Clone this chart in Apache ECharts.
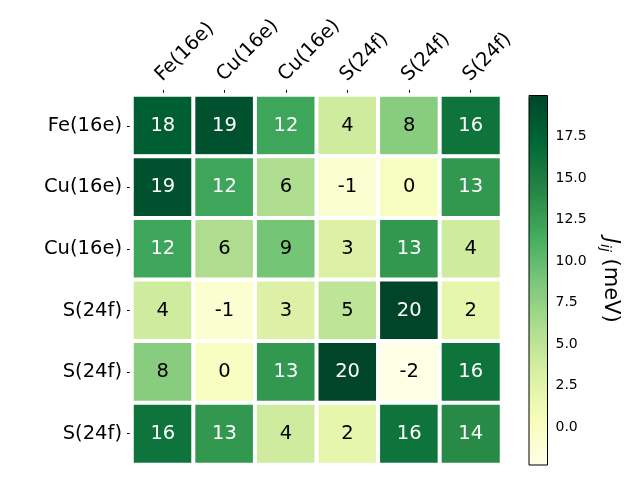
<!DOCTYPE html>
<html><head><meta charset="utf-8">
<script src="https://cdn.jsdelivr.net/npm/echarts@6/dist/echarts.min.js"></script>
<style>html,body{margin:0;padding:0;background:#fff}#c{width:640px;height:480px}</style>
</head><body><div id="c"></div>
<script>
const xLabels = ['Fe(16e)', 'Cu(16e)', 'Cu(16e)', 'S(24f)', 'S(24f)', 'S(24f)'];
const yLabels = ['Fe(16e)', 'Cu(16e)', 'Cu(16e)', 'S(24f)', 'S(24f)', 'S(24f)'];
const row0 = [18, 19, 12, 4, 8, 16];
const row1 = [19, 12, 6, -1, 0, 13];
const row2 = [12, 6, 9, 3, 13, 4];
const row3 = [4, -1, 3, 5, 19.97, 2];
const row4 = [8, 0, 13, 19.97, -2.27, 16];
const row5 = [16, 13, 4, 2, 16, 14];
const rows = [row0, row1, row2, row3, row4, row5];
const colorbarTicks = [0, 2.5, 5, 7.5, 10, 12.5, 15, 17.5];
const ylgn = ['#ffffe5', '#f7fcb9', '#d9f0a3', '#addd8e', '#78c679', '#41ab5d', '#238443', '#006837', '#004529'];

const FONT = 'DejaVu Sans';
const all = rows.flat();
const vmin = Math.min(...all), vmax = Math.max(...all);
const data = [];
rows.forEach((r, yi) => r.forEach((v, xi) => {
  data.push({ value: [xi, yi, v], label: { color: v > (vmax / 2) ? '#fff' : '#000' } });
}));

const chart = echarts.init(document.getElementById('c'), null, { renderer: 'canvas' });
chart.setOption({
  animation: false,
  backgroundColor: '#fff',
  textStyle: { fontFamily: FONT },
  grid: [
    { left: 132, top: 95, width: 369.5, height: 369.5 },
    { left: 529, top: 95.5, width: 18.5, height: 369.5, show: true, borderColor: '#000', borderWidth: 1, backgroundColor: 'transparent', z: 10 }
  ],
  xAxis: [
    { type: 'category', data: xLabels, position: 'top', gridIndex: 0,
      axisLine: { show: false }, splitLine: { show: false },
      axisTick: { show: true, length: 5, alignWithLabel: true, lineStyle: { color: '#000', width: 1 } },
      axisLabel: { rotate: -45, margin: 4, align: 'left', verticalAlign: 'bottom', padding: [0, 0, 2, 6],
        fontSize: 19.5, color: '#000', fontFamily: FONT, interval: 0, hideOverlap: false, overflow: 'none', width: 200 } },
    { type: 'value', gridIndex: 1, min: 0, max: 1, show: false }
  ],
  yAxis: [
    { type: 'category', data: yLabels, inverse: true, gridIndex: 0,
      axisLine: { show: false }, splitLine: { show: false },
      axisTick: { show: true, length: 5, alignWithLabel: true, lineStyle: { color: '#000', width: 1 } },
      axisLabel: { margin: 10, fontSize: 19.5, color: '#000', fontFamily: FONT, interval: 0 } },
    { type: 'value', gridIndex: 1, position: 'right', min: vmin, max: vmax,
      axisLine: { show: false }, splitLine: { show: false },
      axisTick: { show: true, length: 5, customValues: colorbarTicks, lineStyle: { color: '#000', width: 1 } },
      axisLabel: { margin: 8, fontSize: 14, color: '#000', fontFamily: FONT, customValues: colorbarTicks,
        formatter: v => Number(v).toFixed(1) },
      name: '{j|J}{s|ij} {t|(meV)}', nameLocation: 'middle', nameRotate: -90, nameGap: 50,
      nameTextStyle: { fontFamily: FONT, color: '#000', fontSize: 21,
        rich: {
          j: { fontSize: 21, fontStyle: 'italic', fontFamily: FONT, color: '#000' },
          s: { fontSize: 14, fontStyle: 'italic', fontFamily: FONT, color: '#000', padding: [12, 0, 0, 0] },
          t: { fontSize: 21, fontFamily: FONT, color: '#000' }
        } } }
  ],
  visualMap: {
    type: 'continuous', min: vmin, max: vmax, calculable: false, show: true,
    seriesIndex: 0, left: 529, top: 95.5, itemWidth: 18.5, itemHeight: 369.5, padding: 0,
    text: null, inRange: { color: ylgn }, hoverLink: false
  },
  series: [{
    type: 'heatmap', xAxisIndex: 0, yAxisIndex: 0, data: data,
    itemStyle: { borderColor: '#fff', borderWidth: 4 },
    label: { show: true, fontSize: 19.5, fontFamily: FONT, formatter: p => String(Math.round(p.value[2])) },
    emphasis: { disabled: true }
  }]
});
</script></body></html>
